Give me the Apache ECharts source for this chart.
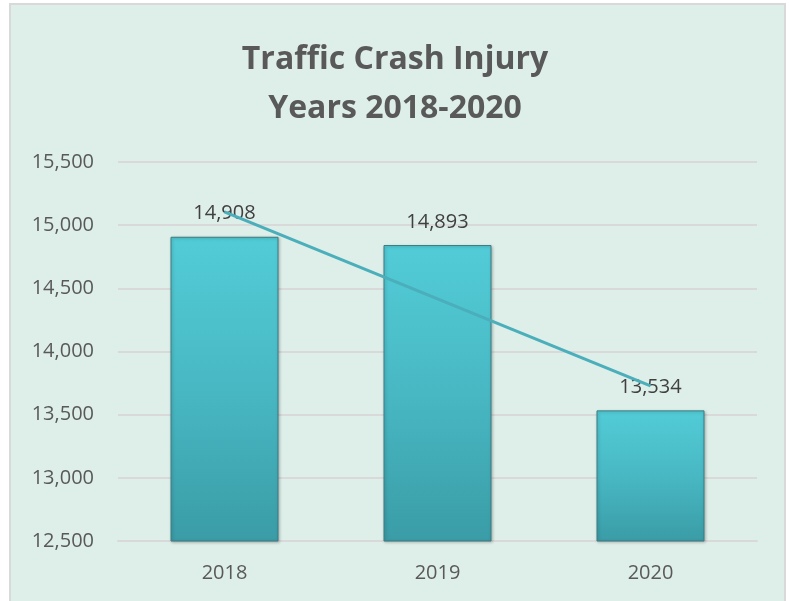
<!DOCTYPE html>
<html>
<head>
<meta charset="utf-8">
<script src="https://cdn.jsdelivr.net/npm/echarts@6/dist/echarts.min.js"></script>
<style>
    html,body{margin:0;padding:0;background:#fff;}
    #chart{width:790px;height:601px;}
</style>
</head>
<body>
<div id="chart"></div>
<script>
    // data
    var years = ['2018', '2019', '2020'];
    var injuries = [14908, 14843, 13534];          // bar heights as drawn
    var injuryLabels = ['14,908', '14,893', '13,534']; // labels as printed
    var trend = [15105, null, 13728];              // trend line end points

    var myChart = echarts.init(document.getElementById('chart'));
    var option = {
        animation: false,
        graphic: [{
            type: 'rect',
            z: -10,
            silent: true,
            shape: {x: 10, y: 4, width: 775, height: 620},
            style: {fill: '#deeee8', stroke: '#d9d9d9', lineWidth: 2}
        }],
        title: {
            text: 'Traffic Crash Injury\nYears 2018-2020',
            left: 'center',
            top: 30,
            textStyle: {
                color: '#595959',
                fontFamily: 'Open Sans',
                fontWeight: 'bold',
                fontSize: 32,
                lineHeight: 49
            }
        },
        grid: {left: 118, right: 33, top: 162, bottom: 60},
        xAxis: {
            type: 'category',
            data: years,
            axisLine: {lineStyle: {color: '#d9d9d9', width: 2}},
            axisTick: {show: false},
            axisLabel: {color: '#595959', fontSize: 20, fontFamily: 'Open Sans', margin: 22}
        },
        yAxis: {
            type: 'value',
            min: 12500,
            max: 15500,
            interval: 500,
            axisLine: {show: false},
            axisTick: {show: false},
            splitLine: {lineStyle: {color: '#d9d9d9', width: 2}},
            axisLabel: {
                color: '#595959', fontSize: 20, fontFamily: 'Open Sans', margin: 24,
                formatter: function (v) { return v.toLocaleString('en-US'); }
            }
        },
        series: [{
            type: 'bar',
            data: injuries,
            barWidth: 108,
            z: 2,
            itemStyle: {
                color: new echarts.graphic.LinearGradient(0, 0, 0, 1, [
                    {offset: 0, color: '#52ccd7'},
                    {offset: 0.5, color: '#48b8c3'},
                    {offset: 1, color: '#3a9ca6'}
                ]),
                borderColor: '#3d7d84',
                borderWidth: 1,
                shadowColor: 'rgba(0,0,0,0.25)',
                shadowBlur: 3,
                shadowOffsetX: 1,
                shadowOffsetY: 1
            },
            label: {
                show: true,
                position: 'top',
                distance: 13,
                color: '#404040',
                fontSize: 20,
                fontFamily: 'Open Sans',
                formatter: function (p) { return injuryLabels[p.dataIndex]; }
            }
        }, {
            type: 'line',
            data: trend,
            connectNulls: true,
            symbol: 'none',
            z: 5,
            lineStyle: {color: '#4aaebb', width: 3}
        }]
    };
    myChart.setOption(option);
</script>
</body>
</html>
